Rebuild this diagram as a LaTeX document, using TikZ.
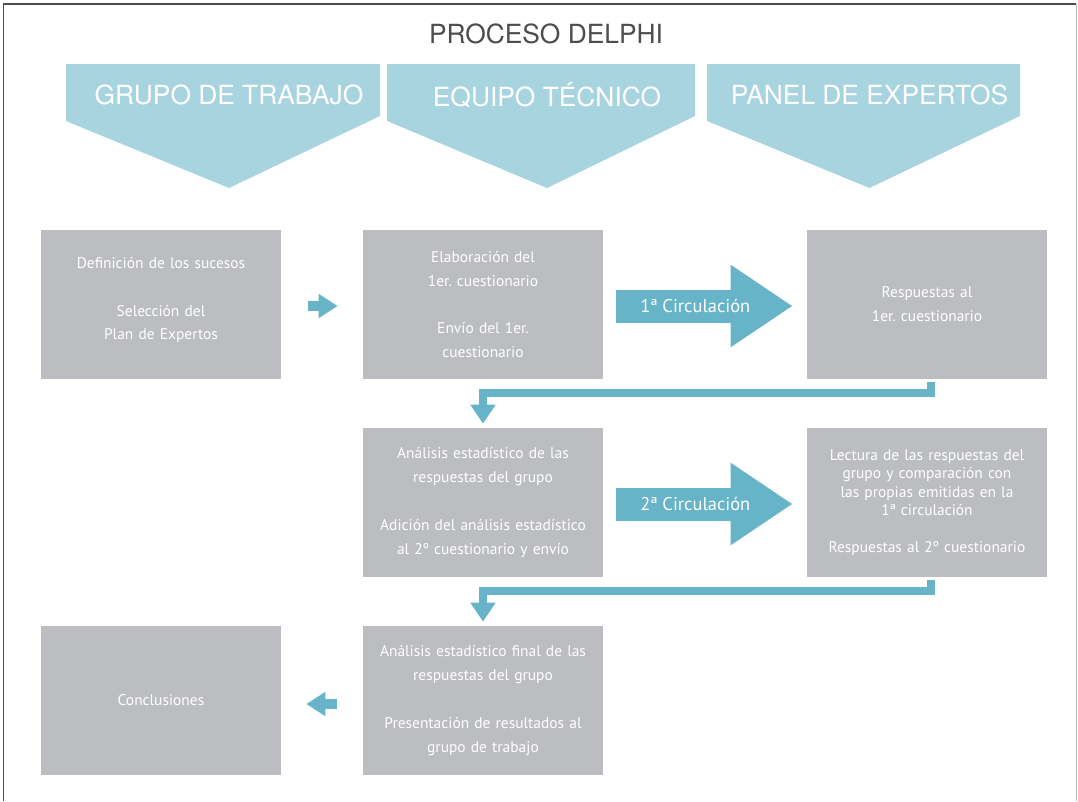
\documentclass[tikz,border=0pt]{standalone}
\usepackage{fontspec}
\setmainfont{PT Sans}
\newfontfamily\headfont{TeX Gyre Heros}
\usetikzlibrary{calc,arrows.meta}
\definecolor{headblue}{HTML}{A8D4E0}
\definecolor{arrowblue}{HTML}{67B4C8}
\definecolor{boxgray}{HTML}{BCBDC0}
\definecolor{titlegray}{HTML}{4D4D4D}
\frenchspacing
\tikzset{
box/.style={rectangle,fill=boxgray,minimum width=4.8cm,minimum height=2.98cm,inner sep=0pt,text width=4.5cm,align=center,text=white,font=\fontsize{8.8}{13.6}\selectfont},
smallarrow/.style={draw=arrowblue,line width=0.2cm,-{Triangle[length=0.38cm,width=0.46cm]}},
bigarrow/.style={draw=arrowblue,line width=0.66cm,-{Triangle[length=1.24cm,width=1.56cm]}},
elbow/.style={draw=arrowblue,line width=0.15cm,-{Triangle[length=0.38cm,width=0.48cm]}},
circlabel/.style={text=white,font=\fontsize{10.5}{12}\selectfont},
headlabel/.style={text=white,font=\headfont\fontsize{15}{18}\selectfont}
}
\begin{document}
\begin{tikzpicture}[x=0.02cm,y=-0.02cm]
\useasboundingbox (0,0) rectangle (1078,801);
\draw[color=titlegray,line width=0.03cm] (3.5,801) -- (3.5,4) -- (1076,4);
\draw[color=lightgray,line width=0.02cm] (1076,4) -- (1076,801);
\node (titulo) at (546,34) [text=titlegray,font=\headfont\fontsize{15}{18}\selectfont] {PROCESO DELPHI};
\foreach \a/\b/\nombre/\texto in {66/380/grupo/GRUPO DE TRABAJO,387/695/equipo/EQUIPO TÉCNICO,707/1020/panel/PANEL DE EXPERTOS}
{
\fill[headblue] (\a,64) -- (\b,64) -- (\b,116) -- ({(\a+\b)/2+6},188) -- (\a,121) -- cycle;
\node[headlabel] (\nombre) at ({(\a+\b)/2+6},95) {\texto};
}
\node[box] (definicion) at (161,304.5) {Definición de los sucesos\\[13.6pt]Selección del\\Plan de Expertos\\[-0.24cm]\mbox{}};
\node[box] (elaboracion) at (483,304.5) {Elaboración del\\1er. cuestionario\\[13.6pt]Envío del 1er.\\cuestionario};
\node[box] (respuestas1) at (927,304.5) {Respuestas al\\1er. cuestionario};
\node[box] (analisis) at (483,502.5) {Análisis estadístico de las\\respuestas del grupo\\[13.6pt]Adición del análisis estadístico\\al 2º cuestionario y envío};
\node[box,font=\fontsize{8.8}{10.5}\selectfont] (lectura) at (927,502.5) {Lectura de las respuestas del\\grupo y comparación con\\las propias emitidas en la\\1ª circulación\\[10.5pt]Respuestas al 2º cuestionario};
\node[box] (conclusiones) at (161,700.5) {Conclusiones};
\node[box] (final) at (483,700.5) {Análisis estadístico final de las\\respuestas del grupo\\[13.6pt]Presentación de resultados al\\grupo de trabajo};
\draw[smallarrow] ($(definicion.east)+(27,1.5)$) -- ($(elaboracion.west)+(-25,1.5)$);
\draw[smallarrow] ($(final.west)+(-26,3.5)$) -- ($(conclusiones.east)+(25,3.5)$);
\draw[bigarrow] ($(elaboracion.east)+(13,1.5)$) -- ($(respuestas1.west)+(-14,1.5)$);
\node[circlabel] (circ1) at ($(elaboracion.east)+(92,1)$) {1ª Circulación};
\draw[bigarrow] ($(analisis.east)+(13,1.5)$) -- ($(lectura.west)+(-14,1.5)$);
\node[circlabel] (circ2) at ($(analisis.east)+(92,1)$) {2ª Circulación};
\draw[elbow] ($(respuestas1.south)+(4,3)$) -- ++(0,10.5) -| ($(analisis.north)+(0,-4)$);
\draw[elbow] ($(lectura.south)+(4,3)$) -- ++(0,10.5) -| ($(final.north)+(0,-4)$);
\end{tikzpicture}
\end{document}
